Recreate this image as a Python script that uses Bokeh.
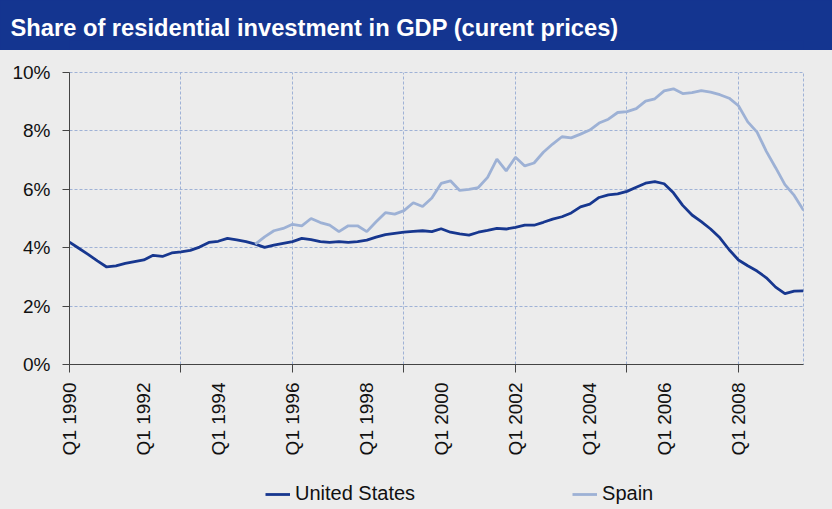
from bokeh.plotting import figure
from bokeh.models import Range1d, FixedTicker, Legend, LegendItem
from bokeh.layouts import column
from bokeh.embed import file_html
from bokeh.resources import INLINE

# ---------------- data ----------------
years = list(range(1990, 2010))
quarters = [f"Q{q} {y}" for y in years for q in (1, 2, 3, 4)]

us = [4.19, 3.98, 3.77, 3.55, 3.34, 3.38, 3.46, 3.52, 3.58, 3.74,
      3.70, 3.82, 3.86, 3.91, 4.02, 4.18, 4.22, 4.32, 4.27, 4.21,
      4.12, 4.01, 4.09, 4.15, 4.21, 4.32, 4.28, 4.21, 4.18, 4.21,
      4.18, 4.21, 4.26, 4.36, 4.45, 4.49, 4.53, 4.56, 4.58, 4.55,
      4.65, 4.53, 4.47, 4.43, 4.53, 4.59, 4.66, 4.64, 4.70, 4.77,
      4.77, 4.87, 4.98, 5.06, 5.19, 5.40, 5.49, 5.72, 5.81, 5.84,
      5.93, 6.07, 6.21, 6.26, 6.19, 5.88, 5.45, 5.12, 4.89, 4.64,
      4.34, 3.93, 3.58, 3.38, 3.20, 2.97, 2.65, 2.43, 2.51, 2.52]

spain_start = "Q1 1995"
spain = [4.12, 4.37, 4.58, 4.66, 4.80, 4.75, 5.00, 4.86, 4.77, 4.55,
         4.75, 4.75, 4.55, 4.89, 5.20, 5.15, 5.27, 5.54, 5.41, 5.70,
         6.20, 6.29, 5.96, 6.00, 6.06, 6.41, 7.03, 6.63, 7.10, 6.80,
         6.90, 7.27, 7.55, 7.80, 7.76, 7.89, 8.03, 8.27, 8.40, 8.63,
         8.66, 8.76, 9.02, 9.10, 9.37, 9.44, 9.28, 9.31, 9.38, 9.33,
         9.24, 9.12, 8.86, 8.31, 7.96, 7.30, 6.74, 6.16, 5.79, 5.28]

x_labels = ["Q1 1990", "Q1 1992", "Q1 1994", "Q1 1996", "Q1 1998",
            "Q1 2000", "Q1 2002", "Q1 2004", "Q1 2006", "Q1 2008"]
x_marks = ["Q1 1990", "Q1 1993", "Q1 1996", "Q1 1999", "Q1 2002",
           "Q1 2005", "Q1 2008"]
y_ticks = [0, 2, 4, 6, 8, 10]
y_labels = ["0%", "2%", "4%", "6%", "8%", "10%"]

title_text = "Share of residential investment in GDP (curent prices)"
series_names = ["United States", "Spain"]

# ---------------- style ----------------
BAND = "#143590"
BG = "#ececec"
US_COL = "#17378f"
ES_COL = "#9db1d5"
GRID = "#9fb2d6"
FONT = "Liberation Sans"
W = 832
LEFT, RIGHT = 69, 29

xi = list(range(len(quarters)))
s0 = quarters.index(spain_start)
xs_es = xi[s0:s0 + len(spain)]
label_idx = [quarters.index(l) for l in x_labels]
mark_idx = [quarters.index(m) for m in x_marks]

# ---------------- header band ----------------
h = figure(width=W, height=50, output_backend="svg", toolbar_location=None,
           x_range=Range1d(0, 1), y_range=Range1d(0, 1), title=title_text,
           x_axis_location=None, y_axis_location=None,
           min_border_left=LEFT, min_border_right=RIGHT,
           min_border_top=40, min_border_bottom=0,
           styles={"background-color": BAND})
h.grid.visible = False
h.outline_line_color = None
h.background_fill_color = None
h.border_fill_color = BAND
h.title.align = "left"
h.title.offset = 10 - LEFT
h.title.standoff = 0
h.title.text_color = "white"
h.title.text_font = FONT
h.title.text_font_style = "bold"
h.title.text_font_size = "23.7px"

# ---------------- main chart ----------------
p = figure(width=W, height=408, output_backend="svg", toolbar_location=None,
           x_range=Range1d(0, len(quarters) - 1), y_range=Range1d(0, 10),
           min_border_left=LEFT, min_border_right=RIGHT, min_border_top=22,
           min_border_bottom=90, styles={"background-color": BG})
p.background_fill_color = BG
p.border_fill_color = BG
p.outline_line_color = GRID
p.outline_line_dash = "3 2"

p.line(xi, us, line_color=US_COL, line_width=2.8)
p.line(xs_es, spain, line_color=ES_COL, line_width=2.8)

# x axis
xa = p.xaxis[0]
xa.ticker = FixedTicker(ticks=label_idx, minor_ticks=mark_idx)
xa.major_label_overrides = {i: l for i, l in zip(label_idx, x_labels)}
xa.major_label_orientation = 3.14159265 / 2
xa.major_tick_out = 0
xa.major_tick_in = 0
xa.minor_tick_out = 8
xa.minor_tick_in = 0
xa.major_label_standoff = 10
xa.axis_line_color = "#444444"
xa.minor_tick_line_color = "#444444"
xa.major_label_text_font = FONT
xa.major_label_text_font_size = "19px"
xa.major_label_text_color = "#111111"

# y axis
ya = p.yaxis[0]
ya.ticker = FixedTicker(ticks=y_ticks, minor_ticks=[])
ya.major_label_overrides = {t: l for t, l in zip(y_ticks, y_labels)}
ya.major_tick_out = 7
ya.major_tick_in = 0
ya.major_label_standoff = 12
ya.axis_line_color = "#444444"
ya.major_tick_line_color = "#444444"
ya.major_label_text_font = FONT
ya.major_label_text_font_size = "19px"
ya.major_label_text_color = "#111111"

# grids
p.xgrid.ticker = FixedTicker(ticks=mark_idx[1:])
p.ygrid.ticker = FixedTicker(ticks=y_ticks[1:])
for g in (p.xgrid, p.ygrid):
    g.grid_line_color = GRID
    g.grid_line_dash = "3 2"
    g.grid_line_width = 1

# ---------------- legend strip ----------------
# (series re-drawn here only so the legend has glyphs; they fall outside
#  this strip's ranges and are therefore not visible)
lf = figure(width=W, height=51, output_backend="svg", toolbar_location=None,
            x_range=Range1d(0, 1), y_range=Range1d(-1, 0),
            x_axis_location=None, y_axis_location=None,
            min_border_left=LEFT, min_border_right=RIGHT,
            min_border_top=0, min_border_bottom=0,
            styles={"background-color": BG})
lf.grid.visible = False
lf.outline_line_color = None
lf.background_fill_color = None
lf.border_fill_color = BG
k_us = lf.line(xi, us, line_color=US_COL, line_width=2.8)
k_es = lf.line(xs_es, spain, line_color=ES_COL, line_width=2.8)
legend = Legend(items=[LegendItem(label=series_names[0], renderers=[k_us]),
                       LegendItem(label=series_names[1], renderers=[k_es])],
                orientation="horizontal", location=(196, 4),
                spacing=157, padding=0, margin=0,
                glyph_width=25, glyph_height=20, label_height=20,
                label_standoff=5,
                label_text_font=FONT, label_text_font_size="20px",
                label_text_color="#111111",
                background_fill_alpha=0, border_line_color=None)
lf.add_layout(legend, "center")

layout = column(h, p, lf, spacing=0)
open("out.html", "w").write(file_html(layout, INLINE))
